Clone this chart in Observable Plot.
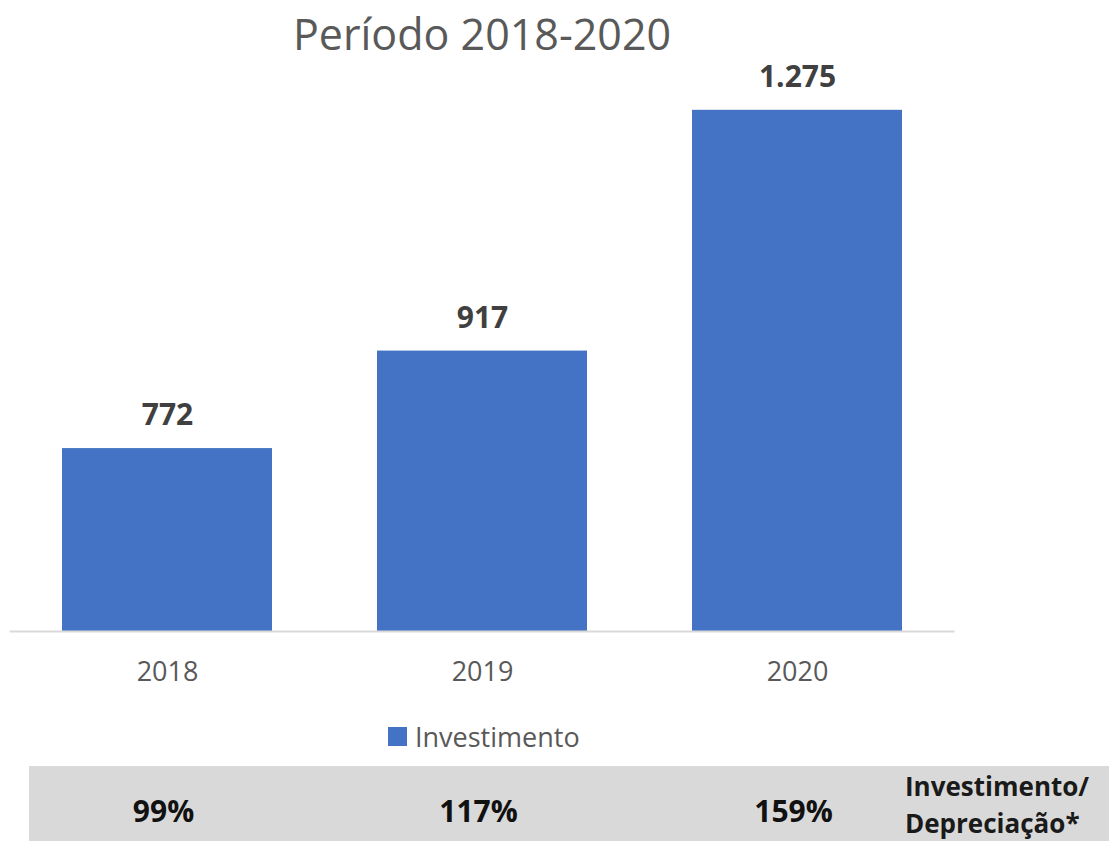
<!DOCTYPE html>
<html><head><meta charset="utf-8">
<script src="https://cdn.jsdelivr.net/npm/d3@7"></script>
<script src="https://cdn.jsdelivr.net/npm/@observablehq/plot@0.6"></script>
<style>
body{margin:0;background:#fff;font-family:"Open Sans",sans-serif;}
#wrap{position:relative;width:1109px;height:841px;overflow:hidden;background:#fff;}
#title{position:absolute;left:0;width:964px;top:6px;text-align:center;font-size:43px;color:#595959;line-height:56px;}
#chart{position:absolute;left:0;top:0;}
#legend{position:absolute;left:388px;top:718px;height:36px;display:flex;align-items:center;font-size:27px;color:#595959;}
#legend .sw{width:19px;height:19px;background:#4472c4;margin-right:8px;}
#bandbg{position:absolute;left:29px;top:766px;right:0;bottom:0;background:#d9d9d9;}
#band{position:absolute;left:0;top:766px;}
#ratio{position:absolute;left:905px;top:768px;font-size:26px;font-weight:700;color:#1a1a1a;line-height:37px;white-space:nowrap;}
</style></head>
<body>
<div id="wrap">
  <div id="title"></div>
  <div id="chart"></div>
  <div id="legend"><div class="sw"></div><span id="legtext"></span></div>
  <div id="bandbg"></div>
  <div id="band"></div>
  <div id="ratio"></div>
</div>
<script>
const titleText = "Período 2018-2020";
const years = ["2018", "2019", "2020"];
const investimento = [772, 917, 1275];
const ratios = ["99%", "117%", "159%"];
const seriesName = "Investimento";
const ratioLabel = ["Investimento/", "Depreciação*"];

const ptBR = d3.formatLocale({decimal: ",", thousands: ".", grouping: [3], currency: ["R$", ""]});
const fmt = ptBR.format(",d");

const data = years.map((y, i) => ({year: y, value: investimento[i], ratio: ratios[i]}));

document.getElementById("title").textContent = titleText;
document.getElementById("legtext").textContent = seriesName;
document.getElementById("ratio").innerHTML = ratioLabel.join("<br>");

const xOpts = {domain: years, paddingInner: 1/3, paddingOuter: 1/6, align: 0.5};

const chart = Plot.plot({
  width: 1109,
  height: 700,
  marginTop: 93,
  marginBottom: 69,
  marginLeft: 9.5,
  marginRight: 154.5,
  style: {fontFamily: "Open Sans, sans-serif", background: "transparent", overflow: "visible"},
  x: {...xOpts, label: null},
  y: {domain: [500, 1300], axis: null},
  marks: [
    Plot.barY(data, {x: "year", y1: 500, y2: "value", fill: "#4472c4"}),
    Plot.ruleY([500], {stroke: "#d9d9d9", strokeWidth: 2}),
    Plot.axisX({tickSize: 0, tickPadding: 30, fontSize: 27, color: "#595959", label: null}),
    Plot.text(data, {x: "year", y: "value", text: d => fmt(d.value), dy: -33, fontSize: 30, fontWeight: 700, fill: "#404040"})
  ]
});
document.getElementById("chart").appendChild(chart);

const band = Plot.plot({
  width: 1109,
  height: 75,
  marginTop: 0,
  marginBottom: 0,
  marginLeft: 9.5,
  marginRight: 154.5,
  style: {fontFamily: "Open Sans, sans-serif", background: "transparent", overflow: "visible"},
  x: {...xOpts, axis: null},
  marks: [
    Plot.text(data, {x: "year", frameAnchor: "top", lineAnchor: "middle", dy: 46, text: "ratio", fontSize: 30, fontWeight: 700, fill: "#111", dx: -4})
  ]
});
document.getElementById("band").appendChild(band);
</script>
</body></html>
